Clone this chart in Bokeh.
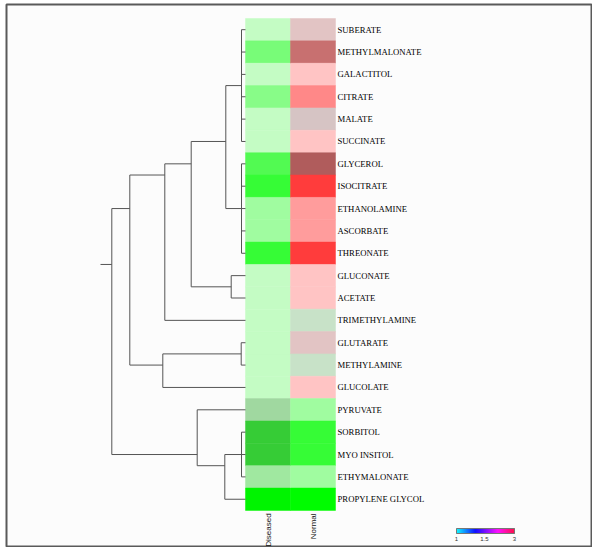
import numpy as np
from bokeh.plotting import figure
from bokeh.models import Range1d
from bokeh.embed import file_html
from bokeh.resources import INLINE
from bokeh.core.properties import value

# ---------------- data ----------------
metabolites = ["SUBERATE", "METHYLMALONATE", "GALACTITOL", "CITRATE", "MALATE",
               "SUCCINATE", "GLYCEROL", "ISOCITRATE", "ETHANOLAMINE", "ASCORBATE",
               "THREONATE", "GLUCONATE", "ACETATE", "TRIMETHYLAMINE", "GLUTARATE",
               "METHYLAMINE", "GLUCOLATE", "PYRUVATE", "SORBITOL", "MYO INSITOL",
               "ETHYMALONATE", "PROPYLENE GLYCOL"]
columns = ["Diseased", "Normal"]

diseased_colors = ["#c4fcc4", "#78fc78", "#c4fcc4", "#88fc88", "#c4fcc4",
                   "#c4fcc4", "#52fa52", "#36fc36", "#a0fca0", "#a0fca0",
                   "#36fc36", "#c4fcc4", "#c4fcc4", "#c4fcc4", "#c4fcc4",
                   "#c4fcc4", "#c4fcc4", "#a0d8a0", "#36cc36", "#36cc36",
                   "#a0e8a0", "#00f400"]
normal_colors = ["#e2c4c4", "#c87070", "#ffc4c4", "#ff8888", "#d6c4c4",
                 "#ffc4c4", "#b05c5c", "#ff3c3c", "#ff9c9c", "#ff9c9c",
                 "#ff3c3c", "#ffc4c4", "#ffc4c4", "#c8e2c8", "#e2c4c4",
                 "#c8e2c8", "#ffc4c4", "#a0fca0", "#36fc36", "#36fc36",
                 "#a0fca0", "#00fc00"]

# dendrogram merges: (node, children (leaf index or node), height)
merges = [
    ("A", [0, 1, 2, 3, 4, 5], 0.40),
    ("B", [6, 7, 8, 9, 10], 0.40),
    ("C", ["A", "B"], 1.97),
    ("D", [11, 12], 1.43),
    ("E", ["C", "D"], 5.43),
    ("F", ["E", 13], 8.07),
    ("G", [14, 15], 0.43),
    ("H", ["G", 16], 8.27),
    ("I", ["F", "H"], 11.57),
    ("J", [18, 19, 20], 0.40),
    ("K", ["J", 21], 2.07),
    ("L", [17, "K"], 4.83),
    ("R", ["I", "L"], 13.37),
]
root_stub = 1.13

colorbar_stops = [0.0, 0.33, 0.72, 1.0]
colorbar_stop_colors = ["#00ffff", "#0000ff", "#ff00ff", "#ff0040"]
colorbar_ticks = ["1", "1.5", "3"]
colorbar_tick_pos = [0.0, 0.48, 1.0]

# ---------------- layout ----------------
W, H = 592, 547
FL, FT = 6, 4          # frame offset inside the figure
HEAT_LEFT = 245.0
COL_W = 45.0
HEAT_TOP = 18.0
ROW_H = 22.36
PX_PER_UNIT = 10.0
CB_LEFT, CB_RIGHT, CB_TOP, CB_BOTTOM = 456.0, 514.0, 528.0, 533.0

p = figure(width=W, height=H, output_backend="svg", toolbar_location=None,
           x_range=Range1d(FL, W), y_range=Range1d(H, FT),
           min_border_left=FL, min_border_top=FT, min_border_right=0, min_border_bottom=0)
p.axis.visible = False
p.grid.visible = False
p.background_fill_color = "#fcfcfc"
p.border_fill_color = "#ffffff"
p.outline_line_color = "#5a5a5a"
p.outline_line_width = 2

n = len(metabolites)
row_center = [HEAT_TOP + ROW_H * (i + 0.5) for i in range(n)]

# heatmap
for ci, colors in enumerate([diseased_colors, normal_colors]):
    p.quad(left=[HEAT_LEFT + COL_W * ci] * n, right=[HEAT_LEFT + COL_W * (ci + 1)] * n,
           top=[HEAT_TOP + ROW_H * i for i in range(n)],
           bottom=[HEAT_TOP + ROW_H * (i + 1) for i in range(n)],
           fill_color=colors, line_color=colors, line_width=0.5)

# dendrogram
node_pos = {}
def pos_of(c):
    if isinstance(c, int):
        return HEAT_LEFT, row_center[c], [c]
    return node_pos[c]

x0s, y0s, x1s, y1s = [], [], [], []
for name, children, h in merges:
    nx = HEAT_LEFT - h * PX_PER_UNIT
    leaves, ys = [], []
    for c in children:
        cx, cy, cl = pos_of(c)
        leaves += cl
        ys.append(cy)
        x0s.append(nx); y0s.append(cy); x1s.append(cx); y1s.append(cy)
    x0s.append(nx); y0s.append(min(ys)); x1s.append(nx); y1s.append(max(ys))
    ny = float(np.mean([row_center[l] for l in leaves]))
    node_pos[name] = (nx, ny, leaves)

rx, ry, _ = node_pos[merges[-1][0]]
x0s.append(rx); y0s.append(ry); x1s.append(rx - root_stub * PX_PER_UNIT); y1s.append(ry)
p.segment(x0=x0s, y0=y0s, x1=x1s, y1=y1s, line_color="#555555", line_width=1)

# row labels
p.text(x=[HEAT_LEFT + 2 * COL_W + 2] * n, y=row_center, text=metabolites,
       text_font=value("Liberation Serif"), text_font_size="8.7px",
       text_baseline="middle", text_align="left", text_color="#000000")

# column labels
heat_bottom = HEAT_TOP + ROW_H * n
p.text(x=[HEAT_LEFT + COL_W * (i + 0.5) for i in range(2)], y=[heat_bottom + 3] * 2,
       text=columns, angle=np.pi / 2, text_font=value("Liberation Sans"),
       text_font_size="8px", text_baseline="middle", text_align="right",
       text_color="#111111")

# color bar
N = 58
fr = np.linspace(0, 1, N + 1)
def hex2rgb(hx):
    return [int(hx[i:i + 2], 16) for i in (1, 3, 5)]
rgbs = np.array([hex2rgb(c) for c in colorbar_stop_colors], dtype=float)
mids = (fr[:-1] + fr[1:]) / 2
pal = []
for m in mids:
    rgb = [np.interp(m, colorbar_stops, rgbs[:, k]) for k in range(3)]
    pal.append("#%02x%02x%02x" % tuple(int(round(v)) for v in rgb))
p.quad(left=CB_LEFT + fr[:-1] * (CB_RIGHT - CB_LEFT), right=CB_LEFT + fr[1:] * (CB_RIGHT - CB_LEFT),
       top=[CB_TOP] * N, bottom=[CB_BOTTOM] * N, fill_color=pal, line_color=pal, line_width=0.5)
p.quad(left=[CB_LEFT], right=[CB_RIGHT], top=[CB_TOP], bottom=[CB_BOTTOM],
       fill_color=None, line_color="#777777", line_width=1)
p.text(x=[CB_LEFT + f * (CB_RIGHT - CB_LEFT) for f in colorbar_tick_pos], y=[CB_BOTTOM + 3] * 3,
       text=colorbar_ticks, text_font=value("Liberation Sans"), text_font_size="6px",
       text_baseline="top", text_align="center", text_color="#333333")

open("out.html", "w").write(file_html(p, INLINE))
